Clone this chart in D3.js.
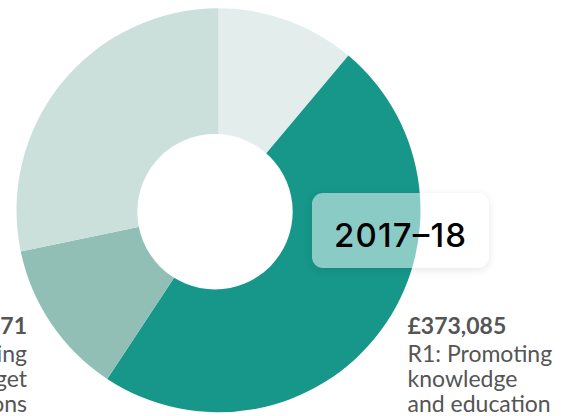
<!DOCTYPE html>
<html>
<head>
<meta charset="utf-8">
<script src="https://cdn.jsdelivr.net/npm/d3@7"></script>
<style>
  html, body { margin: 0; padding: 0; background: #fff; overflow: hidden; }
  #wrap { position: relative; width: 571px; height: 416px; overflow: hidden; }
  svg { position: absolute; left: 0; top: 0; }
  .yearbox {
    position: absolute; box-sizing: border-box;
    background: rgba(255,255,255,0.5);
    border-radius: 11px;
    box-shadow: 0 2px 9px rgba(0,0,0,0.10);
  }
</style>
</head>
<body>
<div id="wrap"></div>
<script>
// ---- data ----
const categories = ["R4", "R1: Promoting knowledge and education", "R3", "R2"];
const values = [86120, 373085, 96471, 218900];
const colors = ["#e3edeb", "#17968a", "#92bfb5", "#cbdfdb"];
const valueLabels = ["", "£373,085", "£96,471", ""];
const labelLines = [[], ["R1: Promoting", "knowledge", "and education"], ["R3: Supporting", "policy and budget", "decisions"], []];
const year = "2017–18";

const W = 571, H = 416;
const cx = 218.5, cy = 210.3, R = 202;

const wrap = d3.select("#wrap");
const svg = wrap.append("svg").attr("width", W).attr("height", H);

const pie = d3.pie().sort(null).value(d => d)(values);
const arc = d3.arc().innerRadius(60).outerRadius(R);

const g = svg.append("g").attr("transform", `translate(${cx},${cy})`);
g.selectAll("path.slice").data(pie).join("path")
  .attr("class", "slice")
  .attr("d", arc)
  .attr("fill", (d, i) => colors[i]);

// centre hole
svg.append("circle").attr("cx", 215).attr("cy", 211.7).attr("r", 77.7).attr("fill", "#fff");

// labels
const labels = [
  { i: 1, x: 407.5, anchor: "start" },
  { i: 2, x: 27, anchor: "end" }
];
labels.forEach(L => {
  const t = svg.append("text")
    .attr("text-anchor", L.anchor)
    .style("font-family", "Lato, sans-serif")
    .style("font-size", "23px")
    .style("fill", "#555");
  t.append("tspan").attr("x", L.x).attr("y", 333.5).style("font-weight", "bold").text(valueLabels[L.i]);
  labelLines[L.i].forEach((ln, k) => {
    t.append("tspan").attr("x", L.x).attr("y", 361.5 + k * 25).text(ln);
  });
});

// year box
wrap.append("div").attr("class", "yearbox")
  .style("left", "312px").style("top", "193px")
  .style("width", "177px").style("height", "75px");
const ysvg = wrap.append("svg").attr("width", W).attr("height", H).style("pointer-events", "none");
ysvg.append("text")
  .attr("x", 400).attr("y", 246.5)
  .attr("text-anchor", "middle")
  .attr("textLength", 132)
  .attr("lengthAdjust", "spacing")
  .style("font-family", "Inter, sans-serif")
  .style("font-size", "33px")
  .style("font-weight", "500")
  .style("fill", "#000")
  .text(year);
</script>
</body>
</html>
